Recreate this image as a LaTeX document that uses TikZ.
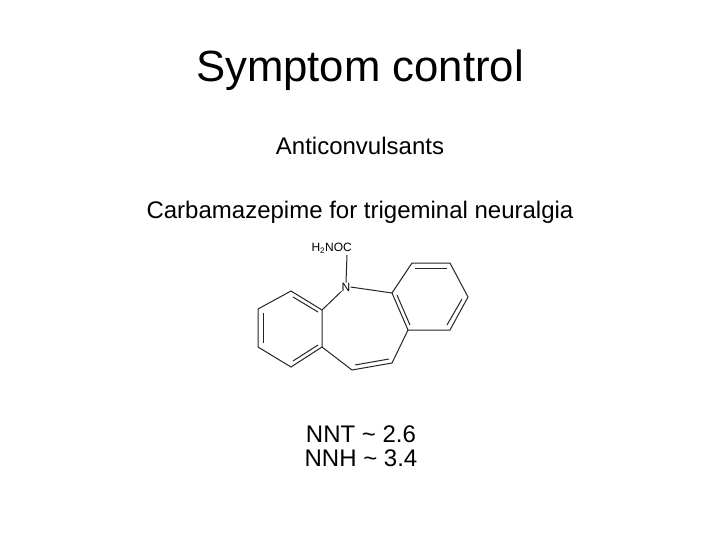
\documentclass[tikz,border=0pt]{standalone}
\usepackage{fontspec}
\setmainfont{Liberation Sans}
\begin{document}
\begin{tikzpicture}[x=1pt,y=-1pt,bond/.style={line width=1pt,draw=black!85},txt/.style={inner sep=0pt,anchor=center}]
\useasboundingbox[fill=white] (0,0) rectangle (720,540);
\node[txt,font=\fontsize{43.7}{48}\selectfont] (title) at (360,70) {Symptom control};
\node[txt,font=\fontsize{24}{28}\selectfont] (anti) at (360,146) {Anticonvulsants};
\node[txt,font=\fontsize{24}{28}\selectfont] (carb) at (360,212) {Carbamazepime for trigeminal neuralgia};
\node[txt,font=\fontsize{24}{28}\selectfont] (nnt) at (361,434) {NNT \textasciitilde{} 2.6};
\node[txt,font=\fontsize{24}{28}\selectfont] (nnh) at (361,458) {NNH \textasciitilde{} 3.4};
\node[txt,font=\fontsize{12}{13}\selectfont,anchor=east] (co) at (352,248) {H\textsubscript{2}NOC};
\node[txt,font=\fontsize{12}{13}\selectfont] (n) at (346,287) {N};
% left ring
\coordinate (a1) at (258,309); \coordinate (a2) at (291,291); \coordinate (a3) at (322,310);
\coordinate (a4) at (322,347); \coordinate (a5) at (291,367); \coordinate (a6) at (258,347);
% right ring
\coordinate (b1) at (392,293); \coordinate (b2) at (412,263); \coordinate (b3) at (450,263);
\coordinate (b4) at (468,297); \coordinate (b5) at (450,330); \coordinate (b6) at (408,330);
\coordinate (c1) at (352,370); \coordinate (c2) at (392,363);
\draw[bond] (a1)--(a2)--(a3)--(a4)--(a5)--(a6)--cycle;
\draw[bond] (b1)--(b2)--(b3)--(b4)--(b5)--(b6)--cycle;
\draw[bond] (a4)--(c1)--(c2)--(b6);
\draw[bond] (n.south west)--(a3);
\draw[bond] (n.east)--(b1);
\draw[bond] (347,255)--(n.north);
% inner double bonds
\draw[bond] (293,297)--(318,312);
\draw[bond] (263,313)--(263,343);
\draw[bond] (293,361)--(318,345);
\draw[bond] (415,268)--(447,268);
\draw[bond] (462,299)--(447,325);
\draw[bond] (397,295)--(410,325);
\draw[bond] (355,365)--(389,359);
\end{tikzpicture}
\end{document}
